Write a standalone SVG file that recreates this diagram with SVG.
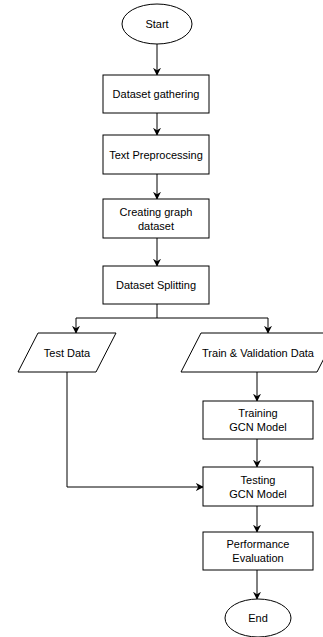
<svg xmlns="http://www.w3.org/2000/svg" width="323" height="637" viewBox="0 0 323 637">
<defs>
<marker id="arr" viewBox="0 0 10 10" refX="9" refY="5" markerWidth="8" markerHeight="8" markerUnits="userSpaceOnUse" orient="auto">
<path d="M0,0 L10,5 L0,10 L3,5 Z" fill="#000"/>
</marker>
<style>
.s{fill:#fff;stroke:#000;stroke-width:1}
.t{font-family:"Liberation Sans",Arial,sans-serif;font-size:11px;fill:#000;text-anchor:middle;dominant-baseline:central}
.c{fill:none;stroke:#000;stroke-width:1}
</style>
</defs>
<rect width="323" height="637" fill="#fff"/>
<g id="connectors">
<path class="c" d="M157,44 V75" marker-end="url(#arr)"/>
<path class="c" d="M157,113 V135" marker-end="url(#arr)"/>
<path class="c" d="M157,174 V199" marker-end="url(#arr)"/>
<path class="c" d="M157,238 V266" marker-end="url(#arr)"/>
<path class="c" d="M157,304 V318 H76 V333" marker-end="url(#arr)"/>
<path class="c" d="M157,318 H268 V333" marker-end="url(#arr)"/>
<path class="c" d="M257,372 V401" marker-end="url(#arr)"/>
<path class="c" d="M257,439 V467" marker-end="url(#arr)"/>
<path class="c" d="M67,372 V487 H203" marker-end="url(#arr)"/>
<path class="c" d="M257,506 V532" marker-end="url(#arr)"/>
<path class="c" d="M257,570 V599" marker-end="url(#arr)"/>
</g>
<g id="start"><ellipse class="s" cx="157" cy="24" rx="35" ry="20"/><text class="t" x="157" y="24">Start</text></g>
<g id="gather"><rect class="s" x="103" y="75" width="106" height="38"/><text class="t" x="156" y="94">Dataset gathering</text></g>
<g id="preproc"><rect class="s" x="103" y="135" width="106" height="39"/><text class="t" x="156" y="154.5">Text Preprocessing</text></g>
<g id="graph"><rect class="s" x="103" y="199" width="106" height="39"/><text class="t" x="156" y="212">Creating graph</text><text class="t" x="156" y="226">dataset</text></g>
<g id="split"><rect class="s" x="103" y="266" width="106" height="38"/><text class="t" x="156" y="285">Dataset Splitting</text></g>
<g id="test"><polygon class="s" points="38,333 116,333 96,372 18,372"/><text class="t" x="67" y="352.5">Test Data</text></g>
<g id="trainval"><polygon class="s" points="201,333 337,333 317,372 181,372"/><text class="t" x="258" y="352.5">Train &amp; Validation Data</text></g>
<g id="training"><rect class="s" x="203" y="401" width="110" height="38"/><text class="t" x="258" y="413">Training</text><text class="t" x="258" y="427">GCN Model</text></g>
<g id="testing"><rect class="s" x="203" y="467" width="110" height="39"/><text class="t" x="258" y="480">Testing</text><text class="t" x="258" y="494">GCN Model</text></g>
<g id="perf"><rect class="s" x="203" y="532" width="110" height="38"/><text class="t" x="258" y="544">Performance</text><text class="t" x="258" y="558">Evaluation</text></g>
<g id="end"><ellipse class="s" cx="258" cy="618" rx="33" ry="19"/><text class="t" x="258" y="618">End</text></g>
</svg>
